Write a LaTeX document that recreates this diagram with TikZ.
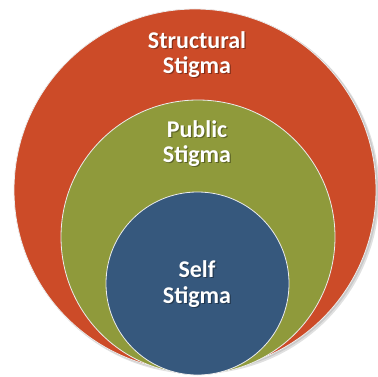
\documentclass[tikz,border=0pt]{standalone}
\usepackage{fontspec}
\setmainfont{Carlito}
\definecolor{redc}{HTML}{CC4B28}
\definecolor{greenc}{HTML}{8F9A3B}
\definecolor{bluec}{HTML}{36587D}
\begin{document}
\begin{tikzpicture}[x=1pt,y=1pt,
  ring/.style={draw=white!85!gray, line width=0.8pt},
  lbl/.style={anchor=base, inner sep=0pt, text=white, font=\fontsize{24}{25}\selectfont\bfseries},
  lblsh/.style={anchor=base, inner sep=0pt, text=black, opacity=0.35, font=\fontsize{24}{25}\selectfont\bfseries}]
\useasboundingbox (0,0) rectangle (378,376);
% shadow
\fill[black, opacity=0.12] (197.5,184) circle (182);
\fill[black, opacity=0.10] (196.5,185) circle (181.5);
\fill[redc, ring] (195,186) circle (181);
\fill[greenc, ring] (198,139) circle (137);
\fill[bluec, ring] (197.5,92.5) circle (91.5);
\foreach \t/\y [count=\i] in {Structural/328, Stigma/303, Public/239, Stigma/214, Self/99, Stigma/73}{
  \node[lblsh] at (198.2,\y-1.2) {\t};
  \node[lbl] (t\i) at (197,\y) {\t};
}
\end{tikzpicture}
\end{document}
